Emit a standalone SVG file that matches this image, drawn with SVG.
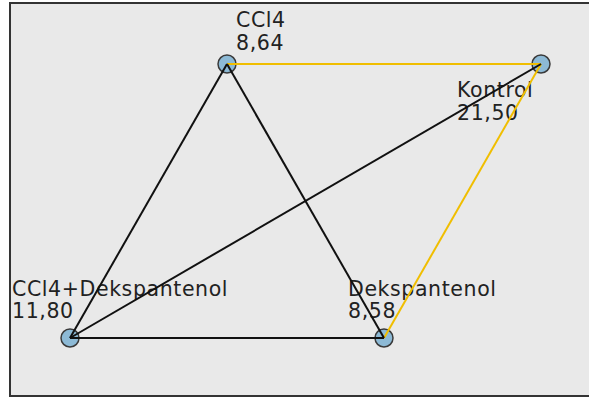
<svg xmlns="http://www.w3.org/2000/svg" width="589" height="399" viewBox="0 0 589 399">
<style>
.lbl{font-family:"DejaVu Sans","Liberation Sans",sans-serif;font-size:20.5px;letter-spacing:0.6px;fill:#222}
.node{fill:#8dbad6;stroke:#3a3a3a;stroke-width:1.5}
.e{stroke:#111;stroke-width:2;fill:none}
.y{stroke:#f0be00;stroke-width:2;fill:none}
</style>
<rect x="0" y="0" width="589" height="399" fill="#ffffff"/>
<rect x="10" y="3" width="600" height="393" fill="#e9e9e9" stroke="#333" stroke-width="2"/>
<g id="node-ccl4">
<circle class="node" cx="227" cy="64" r="9"/>
<text class="lbl" x="236" y="27">CCl4</text>
<text class="lbl" x="236" y="50">8,64</text>
</g>
<g id="node-kontrol">
<circle class="node" cx="541" cy="64" r="9"/>
<text class="lbl" x="457" y="97">Kontrol</text>
<text class="lbl" x="457" y="120">21,50</text>
</g>
<g id="node-ccl4-dekspantenol">
<circle class="node" cx="70" cy="338" r="9"/>
<text class="lbl" x="12" y="296">CCl4+Dekspantenol</text>
<text class="lbl" x="12" y="318">11,80</text>
</g>
<g id="node-dekspantenol">
<circle class="node" cx="384" cy="338" r="9"/>
<text class="lbl" x="348" y="296">Dekspantenol</text>
<text class="lbl" x="348" y="318">8,58</text>
</g>
<g id="connectors">
<line class="y" x1="227" y1="64" x2="541" y2="64"/>
<line class="y" x1="541" y1="64" x2="384" y2="338"/>
<line class="e" x1="227" y1="64" x2="70" y2="338"/>
<line class="e" x1="227" y1="64" x2="384" y2="338"/>
<line class="e" x1="70" y1="338" x2="541" y2="64"/>
<line class="e" x1="70" y1="338" x2="384" y2="338" stroke="#333" stroke-width="3"/>
</g>
</svg>
